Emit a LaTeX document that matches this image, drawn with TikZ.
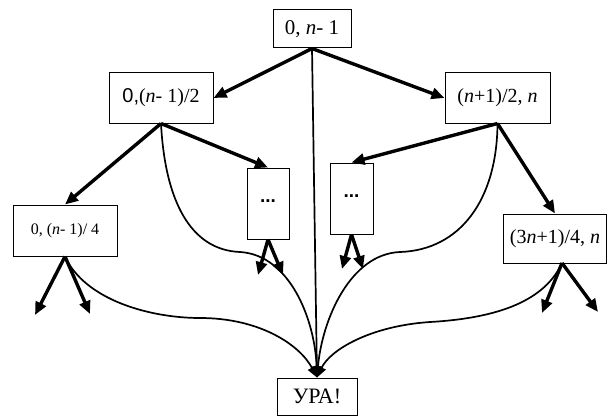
\documentclass[tikz,border=0pt]{standalone}
\usepackage{fontspec}
\setmainfont{Liberation Serif}
\newfontfamily\arialf{Liberation Sans}
\usetikzlibrary{arrows.meta}
\begin{document}
\begin{tikzpicture}[x=1pt,y=-1pt,
  box/.style={draw,line width=1pt,inner sep=0pt,font=\fontsize{20}{22}\selectfont},
  dots/.style={box,font=\arialf\bfseries\fontsize{19}{19}\selectfont},
  thickarrow/.style={line width=3.4pt,-{Triangle[length=13pt,width=11pt]}},
  thinarrow/.style={line width=1.7pt,-{Triangle[length=11pt,width=9pt]}},
]
\useasboundingbox (0,0) rectangle (607,417);

\node[box,minimum width=78pt,minimum height=38pt,font=\fontsize{21}{22}\selectfont] (T) at (312,29) {0, \textit{n}- 1};
\node[box,minimum width=104pt,minimum height=50pt] (L) at (161,98) {{\arialf 0,}(\textit{n}- 1)/2};
\node[box,minimum width=105pt,minimum height=50pt] (R) at (497.5,98) {(\textit{n}+1)/2, \textit{n}};
\node[box,minimum width=104pt,minimum height=51pt,font=\fontsize{16}{18}\selectfont] (LL) at (65,230.5) {0, (\textit{n}- 1)/ 4};
\node[box,minimum width=103pt,minimum height=49pt] (RR) at (555,238.5) {(3\textit{n}+1)/4, \textit{n}};
\node[dots,minimum width=42pt,minimum height=71pt] (D1) at (268,203.5) {\raisebox{5pt}{...}};
\node[dots,minimum width=43pt,minimum height=71pt] (D2) at (351.5,198.5) {\raisebox{5pt}{...}};
\node[box,minimum width=80pt,minimum height=37pt,font=\fontsize{22}{22}\selectfont] (U) at (317,396.5) {УРА!};

\coordinate (rrs) at (562,263);
\coordinate (a1) at (35,315);
\coordinate (a2) at (90,314);
\coordinate (b1) at (258,275);
\coordinate (b2) at (283,275);
\coordinate (c1) at (342,269);
\coordinate (c2) at (363,269);
\coordinate (d1) at (542,313);
\coordinate (d2) at (598,312);

% from top
\draw[thickarrow] (T.south) -- (L.east);
\draw[thickarrow] (T.south) -- (R.west);
\draw[thinarrow] (T.south) -- (U.north);

% from left
\draw[thickarrow] (L.south) -- (LL.north);
\draw[thickarrow] (L.south) -- (D1.north);
\draw[thinarrow] (L.south) .. controls (165,200) and (190,250) .. (240,252)
  .. controls (290,255) and (315,320) .. (U.north);

% from right
\draw[thickarrow] (R.south) -- (D2.north);
\draw[thickarrow] (R.south) -- (RR.north);
\draw[thinarrow] (R.south) .. controls (497,200) and (460,250) .. (400,252)
  .. controls (350,254) and (322,320) .. (U.north);

% lower level
\draw[thickarrow] (LL.south) -- (a1);
\draw[thickarrow] (LL.south) -- (a2);
\draw[thinarrow] (LL.south) .. controls (85,300) and (150,318) .. (200,318)
  .. controls (260,318) and (300,345) .. (U.north);

\draw[thickarrow] (D1.south) -- (b1);
\draw[thickarrow] (D1.south) -- (b2);
\draw[thickarrow] (D2.south) -- (c1);
\draw[thickarrow] (D2.south) -- (c2);

\draw[thickarrow] (rrs) -- (d1);
\draw[thickarrow] (rrs) -- (d2);
\draw[thinarrow] (rrs) .. controls (545,300) and (500,318) .. (430,322)
  .. controls (370,326) and (330,350) .. (U.north);
\end{tikzpicture}
\end{document}
